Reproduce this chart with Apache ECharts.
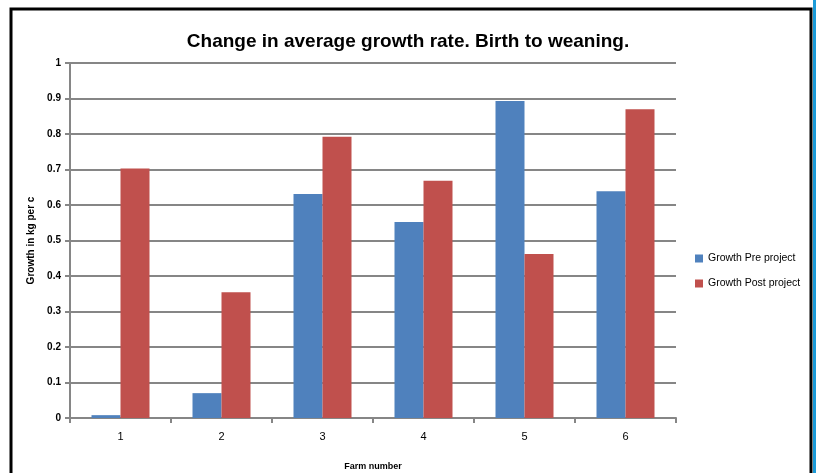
<!DOCTYPE html>
<html>
<head>
<meta charset="utf-8">
<script src="https://cdn.jsdelivr.net/npm/echarts@6/dist/echarts.min.js"></script>
<style>
  html, body { margin: 0; padding: 0; background: #fff; }
  #chartDiv { width: 816px; height: 473px; }
</style>
</head>
<body>
<div id="chartDiv"></div>
<script>
// 数据
var farms = ['1', '2', '3', '4', '5', '6'];
var preProject = [0.008, 0.07, 0.631, 0.552, 0.893, 0.639];
var postProject = [0.703, 0.354, 0.792, 0.668, 0.462, 0.870];
var seriesNames = ['Growth Pre project', 'Growth Post project'];

var myChart_1 = echarts.init(document.getElementById('chartDiv'));

var option = {
    animation: false,
    title: {
        text: 'Change in average growth rate. Birth to weaning.',
        left: 'center',
        top: 27,
        textStyle: {
            fontFamily: 'Liberation Sans',
            fontSize: 19,
            fontWeight: 'bold',
            color: '#000'
        }
    },
    color: ['#4F81BD', '#C0504D'],
    legend: {
        orient: 'vertical',
        left: 690,
        top: 248,
        itemWidth: 8,
        itemHeight: 8,
        itemGap: 14,
        icon: 'rect',
        textStyle: {
            fontFamily: 'Liberation Sans',
            fontSize: 10.5,
            color: '#000'
        },
        data: seriesNames
    },
    grid: {
        left: 70,
        right: 140,
        top: 63,
        bottom: 55,
        containLabel: false,
        outerBoundsMode: 'none'
    },
    xAxis: {
        type: 'category',
        data: farms,
        name: 'Farm number',
        nameLocation: 'middle',
        nameGap: 44,
        nameTextStyle: {
            fontFamily: 'Liberation Sans',
            fontSize: 9,
            fontWeight: 'bold',
            color: '#000'
        },
        axisLine: { lineStyle: { color: '#868686', width: 2 } },
        axisTick: { show: true, length: 5, lineStyle: { color: '#868686', width: 2 } },
        axisLabel: {
            margin: 13,
            fontFamily: 'Liberation Sans',
            fontSize: 11,
            color: '#000'
        }
    },
    yAxis: {
        type: 'value',
        min: 0,
        max: 1,
        interval: 0.1,
        name: 'Growth in kg per c',
        nameLocation: 'middle',
        nameGap: 32,
        nameTextStyle: {
            fontFamily: 'Liberation Sans',
            fontSize: 10,
            fontWeight: 'bold',
            color: '#000'
        },
        axisLine: { show: true, lineStyle: { color: '#868686', width: 2 } },
        axisTick: { show: true, length: 5, lineStyle: { color: '#868686', width: 2 } },
        splitLine: { lineStyle: { color: '#868686', width: 2 } },
        axisLabel: {
            margin: 9,
            fontFamily: 'Liberation Sans',
            fontSize: 10,
            fontWeight: 'bold',
            color: '#000'
        }
    },
    series: [
        {
            name: seriesNames[0],
            type: 'bar',
            barWidth: 29,
            barGap: '0%',
            data: preProject
        },
        {
            name: seriesNames[1],
            type: 'bar',
            barWidth: 29,
            barGap: '0%',
            data: postProject
        }
    ],
    graphic: [
        {
            type: 'rect',
            shape: { x: 11, y: 9, width: 800, height: 480 },
            style: { fill: 'none', stroke: '#000', lineWidth: 3 },
            silent: true
        },
        {
            type: 'rect',
            shape: { x: 813, y: 0, width: 3, height: 473 },
            style: { fill: '#1C9BD8' },
            silent: true
        }
    ]
};

myChart_1.setOption(option);
</script>
</body>
</html>
